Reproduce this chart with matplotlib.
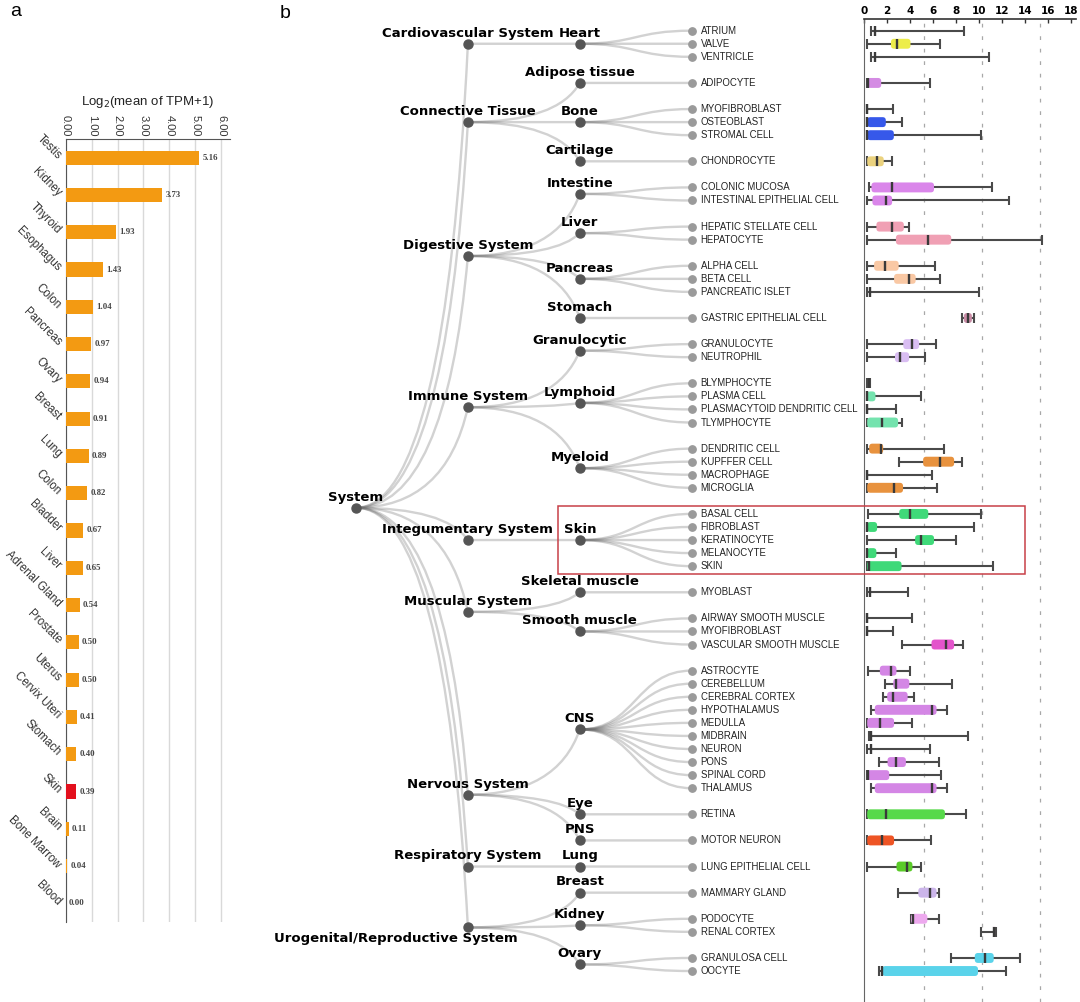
import numpy as np
import matplotlib
matplotlib.use("Agg")
import matplotlib.pyplot as plt
from matplotlib.path import Path
from matplotlib.patches import PathPatch, FancyBboxPatch, Rectangle

plt.rcParams['font.family'] = ['Liberation Sans', 'DejaVu Sans']

W, H = 1080, 1002

# ---------------- panel a data ----------------
organs = ["Testis", "Kidney", "Thyroid", "Esophagus", "Colon", "Pancreas", "Ovary",
          "Breast", "Lung", "Colon", "Bladder", "Liver", "Adrenal Gland", "Prostate",
          "Uterus", "Cervix Uteri", "Stomach", "Skin", "Brain", "Bone Marrow", "Blood"]
organ_tpm = [5.16, 3.73, 1.93, 1.43, 1.04, 0.97, 0.94, 0.91, 0.89, 0.82, 0.67, 0.65,
             0.54, 0.50, 0.50, 0.41, 0.40, 0.39, 0.11, 0.04, 0.00]
highlight = "Skin"

# ---------------- panel b data ----------------
systems = ["Cardiovascular System", "Connective Tissue", "Digestive System",
           "Immune System", "Integumentary System", "Muscular System",
           "Nervous System", "Respiratory System", "Urogenital/Reproductive System"]
tissues = ["Heart", "Adipose tissue", "Bone", "Cartilage", "Intestine", "Liver",
           "Pancreas", "Stomach", "Granulocytic", "Lymphoid", "Myeloid", "Skin",
           "Skeletal muscle", "Smooth muscle", "CNS", "Eye", "PNS", "Lung", "Breast",
           "Kidney", "Ovary"]
tissue_system = ["Cardiovascular System", "Connective Tissue", "Connective Tissue",
                 "Connective Tissue", "Digestive System", "Digestive System",
                 "Digestive System", "Digestive System", "Immune System", "Immune System",
                 "Immune System", "Integumentary System", "Muscular System",
                 "Muscular System", "Nervous System", "Nervous System", "Nervous System",
                 "Respiratory System", "Urogenital/Reproductive System",
                 "Urogenital/Reproductive System", "Urogenital/Reproductive System"]

leaf_names = ["ATRIUM", "VALVE", "VENTRICLE", "ADIPOCYTE", "MYOFIBROBLAST", "OSTEOBLAST",
              "STROMAL CELL", "CHONDROCYTE", "COLONIC MUCOSA", "INTESTINAL EPITHELIAL CELL",
              "HEPATIC STELLATE CELL", "HEPATOCYTE", "ALPHA CELL", "BETA CELL",
              "PANCREATIC ISLET", "GASTRIC EPITHELIAL CELL", "GRANULOCYTE", "NEUTROPHIL",
              "BLYMPHOCYTE", "PLASMA CELL", "PLASMACYTOID DENDRITIC CELL", "TLYMPHOCYTE",
              "DENDRITIC CELL", "KUPFFER CELL", "MACROPHAGE", "MICROGLIA", "BASAL CELL",
              "FIBROBLAST", "KERATINOCYTE", "MELANOCYTE", "SKIN", "MYOBLAST",
              "AIRWAY SMOOTH MUSCLE", "MYOFIBROBLAST", "VASCULAR SMOOTH MUSCLE",
              "ASTROCYTE", "CEREBELLUM", "CEREBRAL CORTEX", "HYPOTHALAMUS", "MEDULLA",
              "MIDBRAIN", "NEURON", "PONS", "SPINAL CORD", "THALAMUS", "RETINA",
              "MOTOR NEURON", "LUNG EPITHELIAL CELL", "MAMMARY GLAND", "PODOCYTE",
              "RENAL CORTEX", "GRANULOSA CELL", "OOCYTE"]
leaf_tissue = ["Heart"] * 3 + ["Adipose tissue"] + ["Bone"] * 3 + ["Cartilage"] + \
              ["Intestine"] * 2 + ["Liver"] * 2 + ["Pancreas"] * 3 + ["Stomach"] + \
              ["Granulocytic"] * 2 + ["Lymphoid"] * 4 + ["Myeloid"] * 4 + ["Skin"] * 5 + \
              ["Skeletal muscle"] + ["Smooth muscle"] * 3 + ["CNS"] * 10 + ["Eye"] + \
              ["PNS"] + ["Lung"] + ["Breast"] + ["Kidney"] * 2 + ["Ovary"] * 2

# log2(TPM+1) box statistics
box_low = [0.65, 0.28, 0.65, 0.28, 0.28, 0.28, 0.28, 0.28, 0.40, 0.28,
           0.28, 0.28, 0.28, 0.28, 0.30, 8.55, 0.28, 0.28, 0.28, 0.28,
           0.28, 0.28, 0.28, 3.05, 0.28, 0.28, 0.35, 0.28, 0.28, 0.28,
           0.28, 0.28, 0.28, 0.28, 3.33, 0.35, 1.82, 1.67, 0.65, 0.28,
           0.42, 0.28, 1.30, 0.28, 0.65, 0.28, 0.28, 0.28, 2.98, 4.10,
           10.20, 7.58, 1.32]
box_q1 = [0.65, 2.35, 0.65, 0.28, 0.28, 0.28, 0.28, 0.28, 0.65, 0.73,
          1.08, 2.78, 0.88, 2.62, 0.30, 8.70, 3.42, 2.70, 0.28, 0.28,
          0.28, 0.28, 0.45, 5.15, 0.28, 0.28, 3.07, 0.28, 4.45, 0.28,
          0.28, 0.28, 0.28, 0.28, 5.88, 1.38, 2.55, 2.02, 0.94, 0.28,
          0.42, 0.28, 2.05, 0.28, 0.94, 0.28, 0.28, 2.83, 4.73, 4.10,
          11.25, 9.65, 1.60]
box_med = [0.95, 2.90, 0.95, 0.35, 0.28, 0.30, 0.30, 1.17, 2.48, 1.95,
           2.48, 5.60, 1.85, 3.95, 0.50, 9.05, 4.15, 3.13, 0.45, 0.30,
           0.28, 1.58, 1.52, 6.62, 0.28, 2.62, 4.00, 0.30, 4.95, 0.30,
           0.45, 0.50, 0.28, 0.28, 7.12, 2.35, 2.75, 2.55, 5.90, 1.38,
           0.65, 0.60, 2.78, 0.35, 5.90, 1.88, 1.58, 3.72, 5.75, 4.30,
           11.33, 10.50, 1.60]
box_q3 = [0.95, 4.05, 0.95, 1.50, 0.28, 1.90, 2.60, 1.72, 6.10, 2.45,
          3.47, 7.60, 3.02, 4.50, 0.50, 9.40, 4.80, 3.93, 0.50, 1.00,
          0.28, 2.97, 1.67, 7.85, 0.28, 3.40, 5.60, 1.14, 6.10, 1.08,
          3.27, 0.50, 0.28, 0.28, 7.85, 2.83, 3.95, 3.80, 6.32, 2.62,
          0.65, 0.60, 3.65, 2.20, 6.32, 7.05, 2.62, 4.22, 6.32, 5.52,
          11.42, 11.30, 9.93]
box_high = [8.75, 6.60, 10.90, 5.75, 2.55, 3.30, 10.15, 2.43, 11.15, 12.60,
            3.88, 15.50, 6.15, 6.60, 10.00, 9.60, 6.30, 5.30, 0.50, 5.00,
            2.78, 3.27, 7.00, 8.55, 5.88, 6.40, 10.20, 9.60, 8.00, 2.78,
            11.20, 3.85, 4.22, 2.55, 8.65, 4.00, 7.70, 4.35, 7.25, 4.20,
            9.05, 5.75, 6.52, 6.70, 7.25, 8.90, 5.80, 4.97, 6.52, 6.52,
            11.50, 13.55, 12.40]
box_color = [None, "#EDED4A", None, "#D48BE3", None, "#3658EA", "#3658EA", "#EBD27E",
             "#DA86EA", "#DA86EA", "#F0A0B4", "#F0A0B4", "#F9C8A4", "#F9C8A4", None,
             "#C98CA6", "#D9BDF2", "#D9BDF2", None, "#74E3AE", None, "#74E3AE",
             "#E8923E", "#E8923E", None, "#E8923E", "#3FD979", "#3FD979", "#3FD979",
             "#3FD979", "#3FD979", None, None, None, "#E354CB", "#D486E5", "#D486E5",
             "#D486E5", "#D486E5", "#D486E5", None, None, "#D486E5", "#D486E5",
             "#D486E5", "#57D94A", "#EE5424", "#5ACB28", "#CBB5EA", "#EDA9EE",
             "#A07090", "#5AD3EA", "#5AD3EA"]
ref_lines = [5.2, 10.25, 15.3]

fig = plt.figure(figsize=(W / 100, H / 100), dpi=100)

# ================= panel a =================
axa = fig.add_axes([66 / W, 1 - 922 / H, 164 / W, 783 / H])
ypos = np.arange(len(organs))
bar_cols = ["#E3101D" if o == highlight else "#F39A12" for o in organs]
axa.barh(ypos, organ_tpm, height=0.38, color=bar_cols, zorder=3)
for i, v in enumerate(organ_tpm):
    axa.text(v + 0.12, i, f"{v:.2f}", va="center", ha="left", fontsize=6.3,
             family=["Liberation Serif", "DejaVu Serif"], weight="bold", color="#444444")
axa.set_xlim(0, 6.35)
axa.set_ylim(len(organs) - 0.5, -0.5)
axa.xaxis.tick_top()
axa.xaxis.set_label_position("top")
axa.set_xticks(range(7))
axa.set_xticklabels([f"{t:.2f}" for t in range(7)], rotation=-90, fontsize=8, color="#333333")
axa.set_yticks(ypos)
axa.set_yticklabels(organs, rotation=-45, rotation_mode="anchor", ha="right", va="center",
                    fontsize=8.3, color="#333333")
axa.tick_params(axis="both", length=0)
axa.tick_params(axis="x", pad=2)
axa.tick_params(axis="y", pad=5)
axa.set_xlabel("Log$_2$(mean of TPM+1)", fontsize=9.5, labelpad=7, color="#222222")
axa.grid(axis="x", color="#d9d9d9", lw=1, zorder=0)
for s in ["right", "bottom"]:
    axa.spines[s].set_visible(False)
axa.spines["left"].set_color("#555555")
axa.spines["top"].set_color("#555555")

fig.text(10 / W, 1 - 12 / H, "a", fontsize=14, va="center", ha="left")
fig.text(280 / W, 1 - 14 / H, "b", fontsize=14, va="center", ha="left")

# ================= panel b: tree =================
# leaf rows: one blank row between tissue groups
leaf_row = []
row = 0
prev = None
for t in leaf_tissue:
    if prev is not None and t != prev:
        row += 1
    leaf_row.append(row)
    row += 1
    prev = t
leaf_row = np.array(leaf_row, dtype=float)
tissue_y = {t: leaf_row[[lt == t for lt in leaf_tissue]].mean() for t in tissues}
system_y = {s: np.mean([tissue_y[t] for t, ts in zip(tissues, tissue_system) if ts == s])
            for s in systems}
root_y = np.mean([system_y[s] for s in systems])

row_px0, row_px = 30.7, 13.06      # pixel of row 0 and row pitch
y_bot = (H - row_px0) / row_px
axt = fig.add_axes([270 / W, 0, 590 / W, 1])
axt.set_xlim((270 - 356) / 111.9, (860 - 356) / 111.9)
axt.set_ylim(y_bot, -row_px0 / row_px)
axt.axis("off")

link_kw = dict(fc="none", ec="#6a6a6a", lw=1.7, alpha=0.3, zorder=1)


def bend(x0, y0, x1, y1):
    xc = x0 + 0.8 * (x1 - x0)
    p = Path([(x0, y0), (xc, y0), (x1, y1)], [Path.MOVETO, Path.CURVE3, Path.CURVE3])
    axt.add_patch(PathPatch(p, **link_kw))


def scurve(x0, y0, x1, y1):
    xm = (x0 + x1) / 2
    p = Path([(x0, y0), (xm, y0), (xm, y1), (x1, y1)],
             [Path.MOVETO, Path.CURVE4, Path.CURVE4, Path.CURVE4])
    axt.add_patch(PathPatch(p, **link_kw))


for s in systems:
    bend(0, root_y, 1, system_y[s])
for t, s in zip(tissues, tissue_system):
    bend(1, system_y[s], 2, tissue_y[t])
for lt, r in zip(leaf_tissue, leaf_row):
    scurve(2, tissue_y[lt], 3, r)

axt.plot([0], [root_y], "o", color="#555555", ms=6.5, zorder=3)
axt.plot(np.ones(len(systems)), [system_y[s] for s in systems], "o", color="#555555",
         ms=6.5, zorder=3, lw=0)
axt.plot(np.full(len(tissues), 2), [tissue_y[t] for t in tissues], "o", color="#555555",
         ms=6.5, zorder=3, lw=0)
axt.plot(np.full(len(leaf_row), 3), leaf_row, "o", color="#9a9a9a", ms=5.3, zorder=3, lw=0)

lab_kw = dict(textcoords="offset points", ha="center", va="bottom", fontsize=9.5,
              weight="bold", color="black", zorder=4, family="DejaVu Sans")
axt.annotate("System", (0, root_y), xytext=(0, 3), **lab_kw)
for s in systems:
    if s.startswith("Urogenital"):
        axt.annotate(s, (1, system_y[s]), xytext=(-52, -3.5),
                     **{**lab_kw, "va": "top"})
    else:
        axt.annotate(s, (1, system_y[s]), xytext=(0, 3), **lab_kw)
for t in tissues:
    axt.annotate(t, (2, tissue_y[t]), xytext=(0, 3), **lab_kw)
for name, r in zip(leaf_names, leaf_row):
    axt.annotate(name, (3, r), xytext=(6.5, 0), textcoords="offset points", ha="left",
                 va="center", fontsize=6.9, color="#222222",
                 family=["Liberation Sans Narrow", "Liberation Sans"], zorder=4)

# ================= panel b: boxes =================
px_unit = 11.48
axb = fig.add_axes([864 / W, 0, 212 / W, (H - 19) / H])
axb.patch.set_visible(False)
axb.set_xlim(0, 212 / px_unit)
axb.set_ylim(y_bot, (19 - row_px0) / row_px)
axb.xaxis.tick_top()
axb.set_xticks(range(0, 19, 2))
axb.set_xticklabels([str(t) for t in range(0, 19, 2)], fontsize=7.5, weight="bold",
                    family="DejaVu Sans")
axb.tick_params(axis="x", direction="in", length=3, width=1, pad=2, color="#333333")
axb.set_yticks([])
for s in ["right", "bottom"]:
    axb.spines[s].set_visible(False)
axb.spines["left"].set_color("#666666")
axb.spines["top"].set_color("#333333")
axb.spines["top"].set_linewidth(1.2)
for x in ref_lines:
    axb.axvline(x, color="#a8a8a8", lw=0.9, ls=(0, (3, 7)), zorder=0)

bh = 0.76
wc = "#4a4a4a"
for i, r in enumerate(leaf_row):
    axb.hlines(r, box_low[i], box_high[i], color=wc, lw=1.5, zorder=2)
    axb.vlines([box_low[i], box_high[i]], r - bh / 2, r + bh / 2, color=wc, lw=1.5, zorder=2)
    if box_color[i] is not None:
        w = box_q3[i] - box_q1[i]
        axb.add_patch(FancyBboxPatch((box_q1[i], r - bh / 2), w, bh,
                                     boxstyle="round,pad=0,rounding_size=0.28",
                                     mutation_aspect=px_unit / row_px,
                                     fc=box_color[i], ec="none", zorder=3))
    axb.vlines(box_med[i], r - bh / 2, r + bh / 2, color="#3a3a3a", lw=1.7, zorder=4)

# highlight frame around the skin group (spans tree and boxes)
skin_rows = leaf_row[[lt == "Skin" for lt in leaf_tissue]]
axb.add_patch(Rectangle((-26.65, skin_rows.min() - 0.63), 26.65 + 14.0,
                        skin_rows.max() - skin_rows.min() + 1.2, fill=False,
                        ec="#C84048", lw=1.1, clip_on=False, zorder=5))

fig.savefig("out.png", dpi=100)
